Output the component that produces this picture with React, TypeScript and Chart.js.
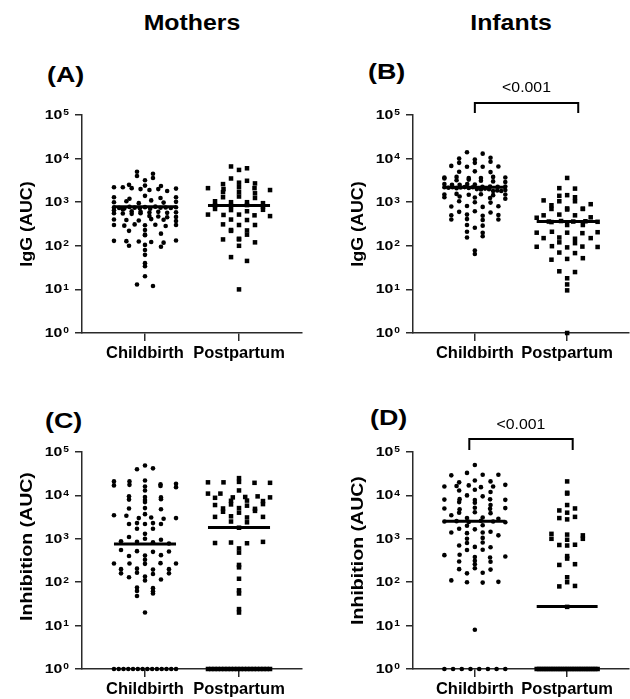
import React, { useEffect, useRef } from 'react';
import { Chart, registerables } from 'chart.js';

Chart.register(...registerables);

// ---------- data ----------
const categories = ['Childbirth', 'Postpartum'];
const yTickValues = [1, 10, 100, 1000, 10000, 100000];
const pValueLabel = '<0.001';

const mothersIgGChildbirth = [
  5000, 4500, 4000, 3600, 3200, 2500, 2400, 2350, 2200, 2200, 2100, 2000, 1900, 2000, 1800, 2050,
  1300, 1200, 1400, 1250, 1300, 1000, 1050, 950, 1100, 980, 1020,
  760, 740, 720, 780, 750, 730, 770, 710, 790, 745, 755, 735, 765,
  650, 680, 620, 600, 560, 580, 600, 550, 570, 540, 590, 560, 480, 470, 450, 460,
  400, 390, 380, 410, 395, 370, 300, 290, 310, 295, 305, 285, 300, 230, 220, 180, 175, 190,
  130, 128, 125, 122, 118, 132, 100, 105, 95, 80, 62, 40, 34, 20, 13, 12,
];
const mothersIgGPostpartum = [
  6600, 6000, 5500, 3500, 3100, 2600, 2800, 2700, 2100, 2000, 2200, 2100, 1900, 1700, 1700, 1600,
  1300, 1350, 1250, 1050, 1000, 1000, 950, 850, 820, 860, 800, 700, 660, 620, 670,
  520, 510, 520, 500, 480, 400, 390, 310, 300, 300, 230, 220, 225, 180, 140, 145, 140, 120, 100, 55, 45, 10,
];
const infantsIgGChildbirth = [
  14000, 13000, 10000, 9500, 10500, 8000, 8000, 8500, 6800, 6500, 6500, 6600, 5000, 5100, 4900,
  3700, 3800, 3600, 3600, 3800, 3700, 3500, 3200, 3300, 3100, 3000, 2900, 2600, 2500, 2500, 2600, 2550,
  2200, 2250, 2150, 2300, 2200, 2100, 2250, 2180, 2220, 2280, 2120, 2200, 2000, 1950, 2050, 1980,
  1800, 1850, 1800, 1900, 1500, 1550, 1480, 1520, 1450, 1500, 1300, 1350, 1280, 1250, 1200, 1050, 1000, 980,
  800, 820, 780, 810, 600, 620, 580, 500, 520, 490, 510, 400, 410, 390, 400, 300, 290, 260, 210, 200,
  155, 165, 78, 65,
];
const infantsIgGPostpartum = [
  3600, 2100, 2050, 1400, 1300, 1450, 1100, 1050, 1050, 900, 850, 700, 720, 680, 700, 710, 500, 520, 500,
  450, 440, 360, 370, 350, 360, 365, 355, 300, 300, 200, 210, 200, 195, 205, 150, 155, 145, 150, 120, 115,
  95, 98, 92, 96, 94, 70, 68, 48, 50, 52, 26, 25, 18, 13, 9.5, 1,
];
const mothersInhChildbirth = [
  49000, 40000, 42000, 21000, 21000, 22000, 18000, 17000, 17500, 18500, 16000, 16500, 15500, 13000,
  9500, 9200, 9000, 8000, 7800, 8200, 7000, 5000, 5100, 4800, 3700, 3500, 3400, 3000, 3100, 2900, 3000,
  2200, 2300, 2200, 2300, 2200, 1700, 1700, 1300, 1100, 1000, 950, 880, 850, 830, 780,
  550, 520, 500, 510, 400, 410, 420, 330, 270, 270, 265, 275, 270, 200, 205, 195, 200, 160, 165, 155, 160,
  130, 135, 115, 110, 75, 73, 63, 62, 48, 55, 20,
  1, 1, 1, 1, 1, 1, 1, 1, 1, 1, 1, 1, 1, 1,
];
const mothersInhPostpartum = [
  25000, 20000, 20000, 20500, 19500, 19500, 13000, 11000, 11000, 9000, 9200, 8800, 9500, 9000, 7500, 7600, 7400,
  6000, 6200, 5800, 6300, 5000, 5100, 4900, 4200, 4000, 4400, 3200, 3300, 3100, 3200, 2500, 2400, 1800,
  800, 820, 790, 850, 600, 480, 250, 220, 120, 65, 55, 24, 20,
  1, 1, 1, 1, 1, 1, 1, 1, 1, 1, 1, 1, 1, 1, 1, 1, 1, 1, 1, 1,
];
const infantsInhChildbirth = [
  50000, 29000, 33000, 30000, 30000, 20000, 22000, 21000, 16000, 16500, 17000, 15500, 16000, 17500,
  13000, 13500, 12000, 10000, 9500, 8000, 8200, 7800, 8100, 7900, 7000, 6800, 6000, 5000, 4800, 5200, 4900, 5100,
  4000, 4100, 3900, 3500, 3000, 3100, 2900, 2500, 2550, 2450, 2600, 2500, 2400, 2000, 2050, 1700, 1650,
  1400, 1450, 1350, 1400, 1200, 1000, 1050, 800, 820, 700, 650, 640, 550, 560, 420, 430, 380, 370, 390,
  300, 310, 295, 260, 200, 210, 195, 160, 165, 110, 100, 98, 102, 8,
  1, 1, 1, 1, 1, 1, 1, 1,
];
const infantsInhPostpartum = [
  21000, 11000, 11500, 6000, 4500, 5000, 4000, 3000, 3200, 2800, 1300, 1250, 1200, 1000, 950, 1000,
  720, 700, 730, 400, 350, 250, 260, 130, 100, 80, 82, 27,
  1, 1, 1, 1, 1, 1, 1, 1, 1, 1, 1, 1, 1, 1, 1, 1, 1, 1, 1, 1, 1, 1, 1, 1, 1, 1, 1,
];

const mothersIgGMedians = [790, 840];
const infantsIgGMedians = [2200, 360];
const mothersInhMedians = [755, 1820];
const infantsInhMedians = [2550, 27.5];

// ---------- layout / style ----------
const FONT = 'Arial, "Liberation Sans", Helvetica, sans-serif';
const AXIS = '#2a2a2a';
const BIN_DECADES = 0.1;
const MAX_STEP = 0.17;
const HALF_WIDTH = 0.33;

type Bracket = { x1: number; x2: number; lineOffset: number; textOffset: number } | null;
type Panel = {
  left: number; top: number; width: number; height: number;
  chartLeft: number; chartRight: number; chartTop: number; chartBottom: number;
  title: string; titleStretch: number; titleShift: number;
  groups: number[][]; medians: number[]; bracket: Bracket;
};

const panels: Panel[] = [
  { left: 0, top: 60, width: 315, height: 310, chartLeft: 82, chartRight: 302, chartTop: 115, chartBottom: 333,
    title: 'IgG (AUC)', titleStretch: 1.05, titleShift: 0,
    groups: [mothersIgGChildbirth, mothersIgGPostpartum], medians: mothersIgGMedians, bracket: null },
  { left: 315, top: 60, width: 318, height: 310, chartLeft: 413, chartRight: 633, chartTop: 115, chartBottom: 333,
    title: 'IgG (AUC)', titleStretch: 1.05, titleShift: 0,
    groups: [infantsIgGChildbirth, infantsIgGPostpartum], medians: infantsIgGMedians,
    bracket: { x1: 1.0, x2: 2.12, lineOffset: 12, textOffset: 27 } },
  { left: 0, top: 370, width: 315, height: 329, chartLeft: 82, chartRight: 302, chartTop: 452, chartBottom: 669,
    title: 'Inhibition (AUC)', titleStretch: 1.15, titleShift: -14,
    groups: [mothersInhChildbirth, mothersInhPostpartum], medians: mothersInhMedians, bracket: null },
  { left: 315, top: 370, width: 318, height: 329, chartLeft: 413, chartRight: 633, chartTop: 452, chartBottom: 669,
    title: 'Inhibition (AUC)', titleStretch: 1.15, titleShift: -10,
    groups: [infantsInhChildbirth, infantsInhPostpartum], medians: infantsInhMedians,
    bracket: { x1: 0.94, x2: 2.06, lineOffset: 13, textOffset: 27 } },
];

function beeswarm(values: number[], center: number) {
  const bins = new Map<number, number[]>();
  values.forEach((v) => {
    const k = Math.round(Math.log10(v) / BIN_DECADES);
    if (!bins.has(k)) bins.set(k, []);
    bins.get(k)!.push(v);
  });
  const pts: { x: number; y: number }[] = [];
  bins.forEach((list) => {
    const n = list.length;
    const step = n > 1 ? Math.min(MAX_STEP, (2 * HALF_WIDTH) / (n - 1)) : 0;
    list.forEach((v, i) => pts.push({ x: center + (i - (n - 1) / 2) * step, y: v }));
  });
  return pts;
}

function stretchedText(ctx: CanvasRenderingContext2D, text: string, x: number, y: number, sx: number) {
  ctx.save();
  ctx.translate(x, y);
  ctx.scale(sx, 1);
  ctx.fillText(text, 0, 0);
  ctx.restore();
}

function PanelChart({ p }: { p: Panel }) {
  const ref = useRef<HTMLCanvasElement>(null);
  useEffect(() => {
    if (!ref.current) return;
    const datasets: any[] = [];
    p.medians.forEach((m, gi) => {
      datasets.push({
        type: 'line',
        data: [{ x: gi + 1 - 0.33, y: m }, { x: gi + 1 + 0.33, y: m }],
        borderColor: '#000', borderWidth: 3, pointRadius: 0, clip: false,
      });
    });
    p.groups.forEach((vals, gi) => {
      datasets.push({
        type: 'scatter',
        data: beeswarm(vals, gi + 1),
        pointStyle: gi === 0 ? 'circle' : 'rect',
        pointRadius: gi === 0 ? 2.3 : 3.2,
        backgroundColor: '#000', borderWidth: 0, clip: false,
      });
    });
    const xAxisH = p.height - (p.chartBottom - p.top);
    const yAxisW = p.chartLeft - p.left;
    const labelsPlugin = {
      id: 'panelLabels',
      afterDraw(chart: any) {
        const { ctx, chartArea, scales } = chart;
        const ys = scales.y, xs = scales.x;
        ctx.save();
        ctx.fillStyle = '#000';
        // y tick labels: 10 with superscript exponent
        for (const v of yTickValues) {
          const y = ys.getPixelForValue(v);
          const exp = String(Math.round(Math.log10(v)));
          ctx.textAlign = 'right';
          ctx.textBaseline = 'middle';
          ctx.font = `bold 8.5px ${FONT}`;
          const ex = chartArea.left - 13;
          stretchedText(ctx, exp, ex, y - 2, 1.2);
          const ew = ctx.measureText(exp).width * 1.2;
          ctx.font = `bold 13px ${FONT}`;
          stretchedText(ctx, '10', ex - ew - 1, y + 0.5, 1.22);
        }
        // y axis title
        ctx.save();
        ctx.translate(chartArea.left - 55, (chartArea.top + chartArea.bottom) / 2 + p.titleShift);
        ctx.rotate(-Math.PI / 2);
        ctx.scale(p.titleStretch, 1);
        ctx.font = `bold 17px ${FONT}`;
        ctx.textAlign = 'center';
        ctx.textBaseline = 'middle';
        ctx.fillText(p.title, 0, 0);
        ctx.restore();
        // category labels
        ctx.font = `bold 16.5px ${FONT}`;
        ctx.textAlign = 'center';
        ctx.textBaseline = 'middle';
        categories.forEach((c, i) => ctx.fillText(c, xs.getPixelForValue(i + 1), chartArea.bottom + 20));
        // significance bracket
        if (p.bracket) {
          const b = p.bracket;
          const xa = xs.getPixelForValue(b.x1);
          const xb = xs.getPixelForValue(b.x2);
          const yl = chartArea.top - b.lineOffset;
          ctx.strokeStyle = '#000';
          ctx.lineWidth = 2;
          ctx.beginPath();
          ctx.moveTo(xa, chartArea.top - 2);
          ctx.lineTo(xa, yl);
          ctx.lineTo(xb, yl);
          ctx.lineTo(xb, chartArea.top - 2);
          ctx.stroke();
          ctx.font = `14px ${FONT}`;
          stretchedText(ctx, pValueLabel, (xa + xb) / 2, chartArea.top - b.textOffset, 1.13);
        }
        ctx.restore();
      },
    };
    const chart = new Chart(ref.current, {
      type: 'scatter',
      data: { datasets },
      options: {
        responsive: false,
        animation: false,
        layout: { padding: { top: p.chartTop - p.top, right: p.width - (p.chartRight - p.left), left: 0, bottom: 0 } },
        plugins: { legend: { display: false }, tooltip: { enabled: false } },
        scales: {
          x: {
            type: 'linear', min: 0.33, max: 2.67,
            afterBuildTicks: (s: any) => { s.ticks = [{ value: 1 }, { value: 2 }]; },
            afterFit: (s: any) => { s.height = xAxisH; },
            ticks: { display: false },
            grid: { drawOnChartArea: false, drawTicks: true, tickLength: 8, color: AXIS, lineWidth: 1.5 },
            border: { display: true, color: AXIS, width: 1.5 },
          },
          y: {
            type: 'logarithmic', min: 1, max: 100000,
            afterBuildTicks: (s: any) => { s.ticks = yTickValues.map((v) => ({ value: v })); },
            afterFit: (s: any) => { s.width = yAxisW; },
            ticks: { display: false },
            grid: { drawOnChartArea: false, drawTicks: true, tickLength: 7, color: AXIS, lineWidth: 1.5 },
            border: { display: true, color: AXIS, width: 1.5 },
          },
        },
      } as any,
      plugins: [labelsPlugin],
    });
    return () => chart.destroy();
  }, [p]);
  return (
    <canvas ref={ref} width={p.width} height={p.height}
      style={{ position: 'absolute', left: p.left, top: p.top, width: p.width, height: p.height }} />
  );
}

function Label({ text, x, top, size, sx, center }:
  { text: string; x: number; top: number; size: number; sx: number; center?: boolean }) {
  return (
    <div style={{
      position: 'absolute', top, left: center ? x - 100 : x, width: center ? 200 : undefined,
      textAlign: center ? 'center' : 'left', fontFamily: FONT, fontWeight: 'bold', fontSize: size, lineHeight: 1,
      whiteSpace: 'nowrap', color: '#000', transform: `scaleX(${sx})`,
      transformOrigin: center ? 'center' : 'left',
    }}>{text}</div>
  );
}

export default function App() {
  return (
    <div style={{ position: 'absolute', left: 0, top: 0, width: 630, height: 699, overflow: 'hidden', background: '#fff' }}>
      <Label text="Mothers" x={192} top={12} size={22} sx={1.13} center />
      <Label text="Infants" x={511} top={12} size={22} sx={1.13} center />
      <Label text="(A)" x={47} top={64} size={22} sx={1.22} />
      <Label text="(B)" x={368} top={61} size={22} sx={1.22} />
      <Label text="(C)" x={45} top={410} size={22} sx={1.22} />
      <Label text="(D)" x={370} top={407} size={22} sx={1.22} />
      {panels.map((p, i) => <PanelChart key={i} p={p} />)}
    </div>
  );
}
